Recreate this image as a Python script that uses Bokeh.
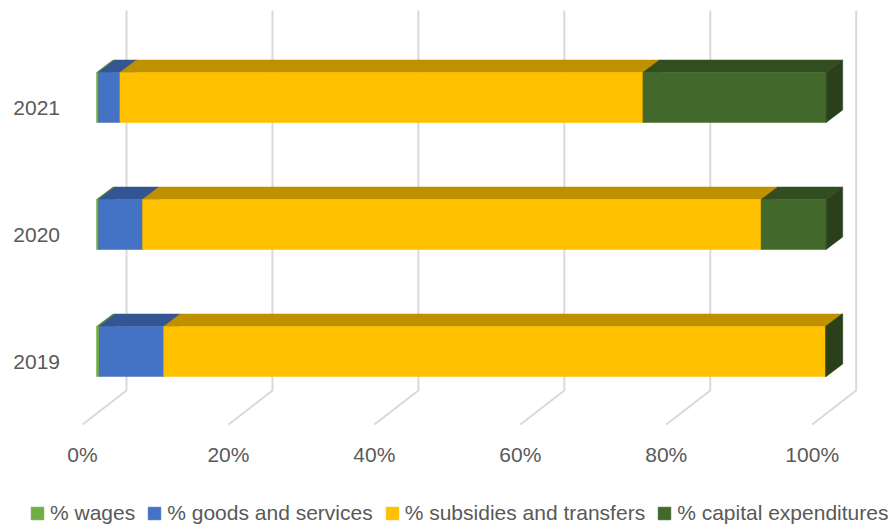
from bokeh.plotting import figure
from bokeh.models import Range1d, Legend, LegendItem
from bokeh.core.properties import value
from bokeh.embed import file_html
from bokeh.resources import INLINE

# ---- data ----
years = ["2019", "2020", "2021"]
wages = [0.4, 0.3, 0.3]
goods = [8.8, 6.0, 2.9]
subsidies = [90.7, 84.8, 71.7]
capital = [0.1, 8.9, 25.1]
series_names = ["% wages", "% goods and services",
                "% subsidies and transfers", "% capital expenditures"]
series_colors = ["#70AD47", "#4472C4", "#FFC000", "#43682B"]
tick_values = [0, 20, 40, 60, 80, 100]
tick_labels = ["0%", "20%", "40%", "60%", "80%", "100%"]

# ---- layout constants (pixels) ----
W, H = 890, 527
PX = 7.297   # px per percent
X0 = 96      # px of 0% on bar front plane
YS = 127     # px per category step
Y0 = 176     # px from bottom to centre of first category

x_start = -X0 / PX
x_end = x_start + W / PX
y_start = -Y0 / YS
y_end = y_start + H / YS


def ux(px):
    return px / PX


def uy(px):
    return px / YS


def ytop(t):
    return y_end - t / YS


def shade(hexcol, f):
    r = int(hexcol[1:3], 16)
    g = int(hexcol[3:5], 16)
    b = int(hexcol[5:7], 16)
    return "#%02x%02x%02x" % (int(r * f), int(g * f), int(b * f))


FONT = "Liberation Sans"
TXT = "#595959"

p = figure(width=W, height=H, x_range=Range1d(x_start, x_end),
           y_range=Range1d(y_start, y_end), output_backend="svg",
           toolbar_location=None, min_border=0, outline_line_color=None,
           x_axis_type=None, y_axis_type=None)
p.grid.visible = False
p.background_fill_color = "white"
p.border_fill_color = "white"

# ---- back wall gridlines + floor diagonals ----
gx, gy = [], []
for t in tick_values:
    gx.append([t - ux(14), t + ux(30), t + ux(30)])
    gy.append([ytop(424), ytop(390), ytop(10)])
p.multi_line(gx, gy, line_color="#D9D9D9", line_width=2)

# ---- 3D stacked bars ----
half = uy(25)
DX = ux(16.5)
DY = uy(12.5)
series = [wages, goods, subsidies, capital]
cum = [0.0] * len(years)
items = []
for vals, name, col in zip(series, series_names, series_colors):
    fx, fy, tx, ty, sx, sy = [], [], [], [], [], []
    for i, v in enumerate(vals):
        l = cum[i]
        r = l + v
        c = i
        fx.append([l, r, r, l]); fy.append([c - half, c - half, c + half, c + half])
        tx.append([l, r, r + DX, l + DX]); ty.append([c + half, c + half, c + half + DY, c + half + DY])
        sx.append([r, r + DX, r + DX, r]); sy.append([c - half, c - half + DY, c + half + DY, c + half])
        cum[i] = r
    topc = shade(col, 0.75)
    sidec = shade(col, 0.62)
    p.patches(tx, ty, fill_color=topc, line_color=topc, line_width=0.5)
    fr = p.patches(fx, fy, fill_color=col, line_color=col, line_width=0.5)
    p.patches(sx, sy, fill_color=sidec, line_color=sidec, line_width=0.5)
    items.append(LegendItem(label=name, renderers=[fr]))

# ---- category labels ----
p.text(x=[ux(59.5 - X0)] * len(years), y=[i - uy(10) for i in range(len(years))],
       text=years, text_align="right", text_baseline="middle",
       text_font=value(FONT), text_font_size="21px", text_color=TXT)

# ---- value tick labels ----
p.text(x=[t - ux(14) for t in tick_values], y=[ytop(454)] * len(tick_values),
       text=tick_labels, text_align="center", text_baseline="middle",
       text_font=value(FONT), text_font_size="21px", text_color=TXT)

legend = Legend(items=items, orientation="horizontal", location=(29, 2),
                glyph_width=16, glyph_height=16, label_standoff=5, spacing=11,
                padding=0, margin=0, border_line_color=None,
                background_fill_alpha=0, label_text_font=FONT,
                label_text_font_size="21px", label_text_color=TXT)
p.add_layout(legend)

open("out.html", "w").write(file_html(p, INLINE))
